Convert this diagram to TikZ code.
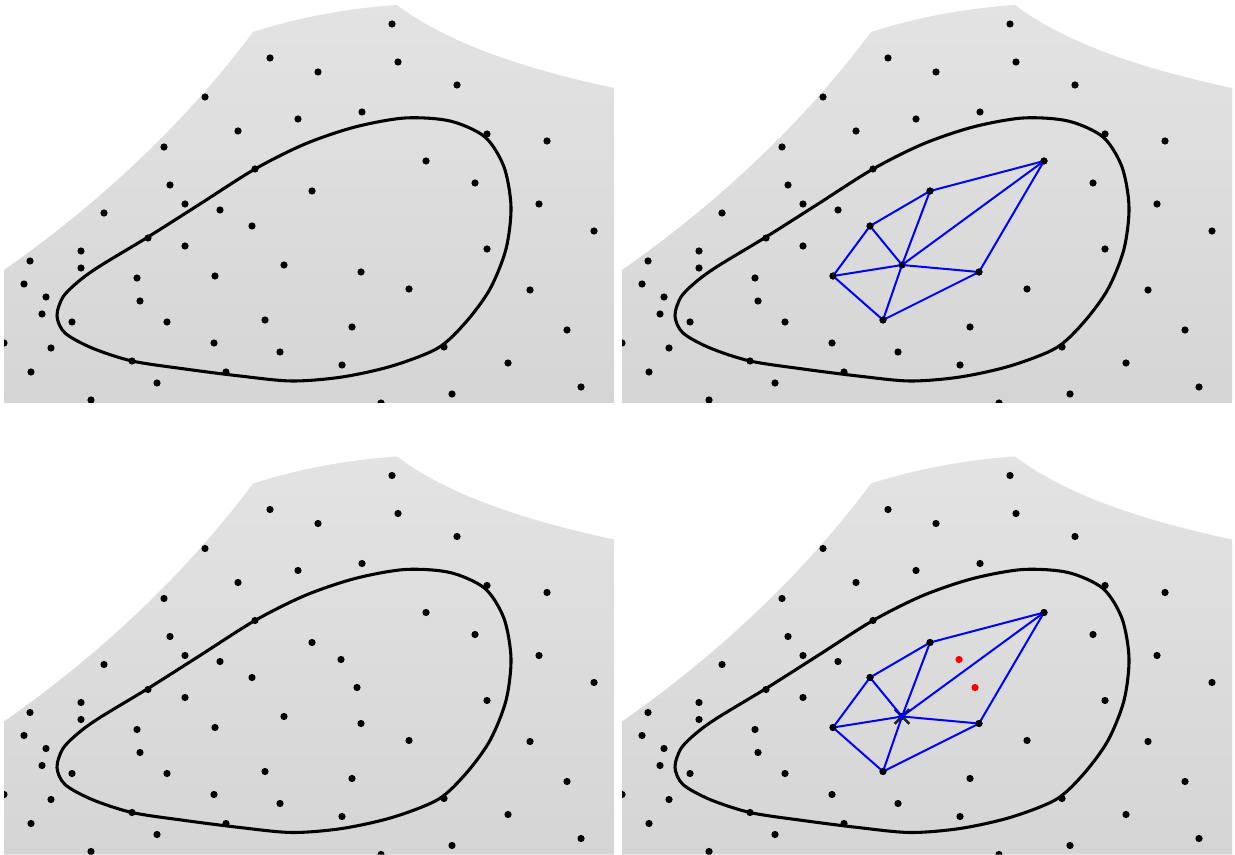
\documentclass[tikz,border=0pt]{standalone}
\usepackage{xcolor}
\usetikzlibrary{shapes.misc}

\definecolor{surftop}{RGB}{227,227,227}
\definecolor{surfbot}{RGB}{213,213,213}
\tikzset{
    surface/.style={top color=surftop, bottom color=surfbot},
    curveline/.style={line width=2.3pt, black},
    meshline/.style={line width=1.5pt, blue},
    newpoint/.style={fill=red},
    removed/.style={draw=black!85, cross out, line width=2pt, minimum size=9pt, inner sep=0pt}
}

% sample points of one panel (pixel units, y downwards)
\newcommand{\samplepts}{392/24, 270/58, 318/72, 398/62, 457/85, 205/97, 362/112,
    298/119, 238/131, 487/134, 547/141, 164/147, 255/169, 426/161, 170/185,
    312/191, 475/183, 185/204, 220/210, 104/213, 539/204, 252/226, 148/238,
    594/231, 185/246, 81/251, 487/249, 30/261, 81/268, 284/265, 361/272,
    137/278, 215/276, 409/289, 530/290, 24/284, 46/297, 140/301, 42/314,
    72/322, 167/322, 265/320, 352/327, 567/330, 214/343, 280/352, 444/347,
    51/348, 4/343, 132/361, 342/365, 508/363, 226/372, 31/372, 157/383,
    581/387, 452/394, 91/400, 381/403}
\newcommand{\newpts}{341/208, 357/236}

% surface, boundary curve and points
\newcommand{\drawpanel}{%
    \begin{scope}
        \clip (4,403) -- (4,270) .. controls (90,210) and (180,130) .. (253,32)
            .. controls (300,17) and (350,8) .. (397,5)
            .. controls (450,45) and (530,70) .. (614,88) -- (614,403) -- cycle;
        \shade[surface] (0,0) rectangle (615,405);
        \draw[curveline] plot[smooth cycle] coordinates {(57,316) (63,297) (79,281)
            (100,266) (148,237) (200,204) (255,169) (305,144) (355,127) (405,118)
            (450,121) (485,137) (504,167) (511,207) (506,249) (490,289) (466,322)
            (438,348) (392,366) (342,377) (292,381) (240,376) (185,369) (132,361)
            (92,348) (65,333)};
        \foreach \x/\y in \samplepts {\fill (\x,\y) circle[radius=3.6];}
    \end{scope}}

% star of the centre point
\newcommand{\drawmesh}[1]{%
    \coordinate (#1hub) at (284,265);
    \coordinate (#1n1) at (312,191);
    \coordinate (#1n2) at (252,226);
    \coordinate (#1n3) at (215,276);
    \coordinate (#1n4) at (265,320);
    \coordinate (#1n5) at (361,272);
    \coordinate (#1n6) at (426,161);
    \draw[meshline] (#1hub) -- (#1n1) (#1hub) -- (#1n2) (#1hub) -- (#1n3)
        (#1hub) -- (#1n4) (#1hub) -- (#1n5) (#1hub) -- (#1n6);
    \draw[meshline, line join=round] (#1n1) -- (#1n2) -- (#1n3) -- (#1n4) -- (#1n5) -- (#1n6) -- cycle;
    \foreach \v in {n1,n2,n3,n4,n5,n6} {\fill (#1\v) circle[radius=3.4];}
}

\begin{document}
\begin{tikzpicture}[x=0.75pt, y=-0.75pt]
    \useasboundingbox (0,0) rectangle (1235,855);

    % top left
    \drawpanel

    % top right
    \begin{scope}[shift={(618,0)}]
        \drawpanel
        \drawmesh{top-}
        \fill (top-hub) circle[radius=2.8];
    \end{scope}

    % bottom left
    \begin{scope}[shift={(0,451.5)}]
        \drawpanel
        \foreach \x/\y in \newpts {\fill (\x,\y) circle[radius=3.6];}
    \end{scope}

    % bottom right
    \begin{scope}[shift={(618,451.5)}]
        \drawpanel
        \node (gone) [removed] at (284,265) {};
        \drawmesh{bot-}
        \foreach \x/\y in \newpts {\fill[newpoint] (\x,\y) circle[radius=3.6];}
    \end{scope}
\end{tikzpicture}
\end{document}
